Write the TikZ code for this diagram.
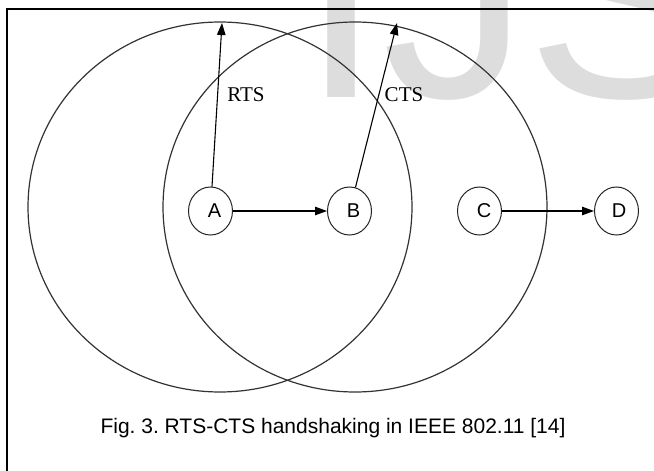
\documentclass[tikz,border=0pt]{standalone}
\usepackage{fontspec}
\setmainfont{Liberation Serif}
\newfontfamily\arialfont{Liberation Sans}
\usetikzlibrary{shapes.geometric,arrows.meta}
\definecolor{wmgray}{RGB}{221,221,221}
\frenchspacing
\tikzset{
  station/.style={draw=black!85, line width=1pt, ellipse, minimum width=44pt, minimum height=48pt, inner sep=0pt, font=\arialfont\fontsize{20}{20}\selectfont},
  rangecirc/.style={draw=black!80, line width=1.2pt},
  arr/.style={draw=black, line width=1.1pt, -{Triangle[length=12pt,width=8.5pt]}},
  msg/.style={font=\fontsize{21}{21}\selectfont, inner sep=0pt},
  wm/.style={text=wmgray, font=\arialfont\fontsize{295}{295}\selectfont, inner sep=0pt, anchor=base west},
  framel/.style={draw=black, line width=2pt}
}
\begin{document}
\begin{tikzpicture}[x=1pt,y=-1pt]
\useasboundingbox (0,0) rectangle (654,471);
\fill[white] (0,0) rectangle (654,471);
% watermark
\begin{scope}
\clip (0,0) rectangle (654,471);
\node[wm] (wmI) at (300,97) {I};
\node[wm] (wmJ) at (382,97) {J};
\node[wm] (wmS) at (526,97) {S};
\end{scope}
% frame
\coordinate (f1) at (7,471);
\coordinate (f2) at (7,9);
\coordinate (f3) at (655,9);
\draw[framel] (f1) -- (f2) -- (f3);
% ranges
\draw[rangecirc] (220,207) ellipse [x radius=192pt, y radius=185pt];
\draw[rangecirc] (355,207) ellipse [x radius=192pt, y radius=185pt];
% stations
\node[station] (A) at (210.5,211) {\hspace*{8pt}A};
\node[station] (B) at (349.5,211) {\hspace*{8pt}B};
\node[station] (C) at (479.5,211) {\hspace*{9pt}C};
\node[station] (D) at (616.5,211) {\hspace*{5pt}D};
% arrows
\coordinate (rtsTip) at (222,23);
\coordinate (ctsTip) at (397,23);
\draw[arr] (A) -- (B);
\draw[arr] (C) -- (D);
\draw[arr] (A) -- (rtsTip);
\draw[arr] (B) -- (ctsTip);
% labels
\node[msg] (rts) at (246,95) {RTS};
\node[msg] (cts) at (404,95) {CTS};
% caption
\node[anchor=base, inner sep=0pt, font=\arialfont\fontsize{21}{21}\selectfont] (cap) at (333,433) {Fig. 3. RTS-CTS handshaking in IEEE 802.11 [14]};
\end{tikzpicture}
\end{document}
